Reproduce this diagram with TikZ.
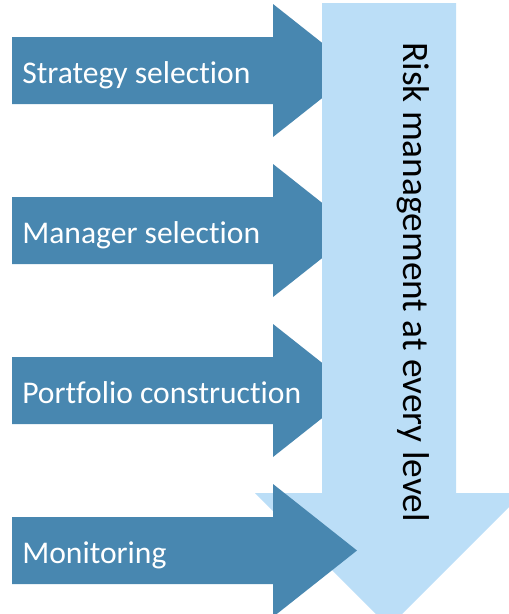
\documentclass[tikz,border=0pt]{standalone}
\usepackage{fontspec}
\setmainfont{Carlito}[Ligatures=NoCommon]
\definecolor{stageblue}{RGB}{72,135,176}
\definecolor{riskblue}{RGB}{187,222,247}
\tikzset{
  stage/.style={fill=stageblue},
  stagetext/.style={text=white, anchor=base west, inner sep=0pt, font=\fontsize{23.7}{28}\selectfont},
  risk/.style={fill=riskblue},
  risktext/.style={rotate=-90, anchor=base west, inner sep=0pt, font=\fontsize{28}{34}\selectfont},
}
\begin{document}
\begin{tikzpicture}[x=0.75pt, y=-0.75pt]
    \useasboundingbox (0, 0) rectangle (508, 614);
    % first three stages lie under the risk arrow
    \foreach \y/\name/\txt in {70.5/strategy/Strategy selection, 230.5/manager/Manager selection, 390.5/portfolio/Portfolio construction} {
      \fill [stage] (12, \y-33.5) -- (273, \y-33.5) -- (273, \y-66.5) -- (357, \y)
        -- (273, \y+66.5) -- (273, \y+33.5) -- (12, \y+33.5) -- cycle;
      \node [stagetext] (\name) at (22, \y+12.5) {\txt};
    }
    % risk arrow
    \fill [risk] (322, 3) -- (456, 3) -- (456, 493) -- (523, 493) -- (389, 627)
      -- (255, 493) -- (322, 493) -- cycle;
    % last stage sits on top
    \fill [stage] (12, 517) -- (273, 517) -- (273, 484) -- (357, 550.5)
      -- (273, 617) -- (273, 584) -- (12, 584) -- cycle;
    \node [stagetext] (monitoring) at (22, 563) {Monitoring};
    \node [risktext] (risk) at (403, 42) {Risk management at every level};
  \end{tikzpicture}
\end{document}
